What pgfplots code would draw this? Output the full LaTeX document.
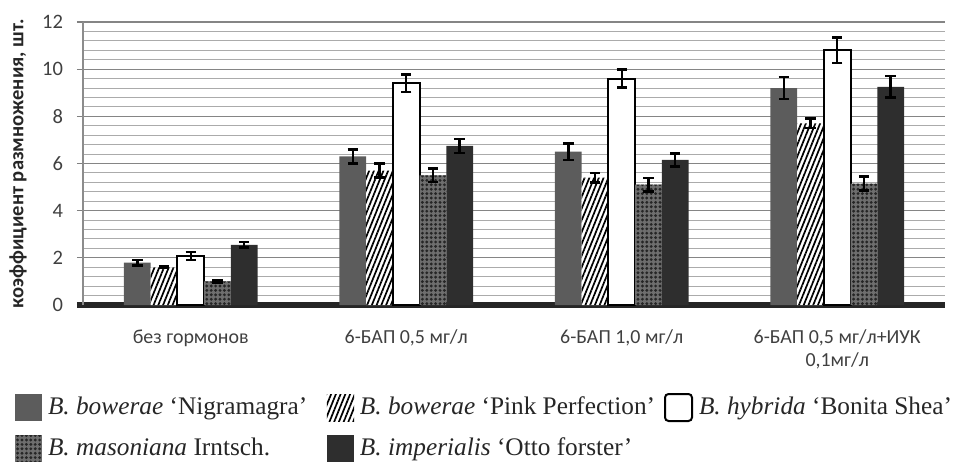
\documentclass[border=0pt]{standalone}
\usepackage{pgfplots}
\pgfplotsset{compat=1.18}
\usepackage{fontspec}
\setmainfont{Liberation Serif}
\newfontfamily\carlito{Carlito}
\usetikzlibrary{patterns,patterns.meta}

\definecolor{cNigra}{HTML}{5C5C5C}
\definecolor{cOtto}{HTML}{2E2E2E}
\definecolor{cMason}{HTML}{6E6E6E}
\definecolor{cText}{HTML}{404040}

\pgfplotsset{
  sqleg/.style={legend image code/.code={\path[##1] (0bp,-6.75bp) rectangle (13.5bp,6.75bp);}},
  sqlegr/.style={legend image code/.code={\path[##1, rounded corners=1.8bp] (0bp,-6.75bp) rectangle (13.5bp,6.75bp);}},
  eb/.style={error bars/.cd, y dir=both, y explicit,
    error bar style={line width=1.2bp, black},
    error mark options={rotate=90, mark size=2.6bp, line width=1.2bp, black}},
}

\begin{document}
\begin{tikzpicture}
\path[use as bounding box] (-41.5bp,-78.5bp) rectangle (439.5bp,152.5bp);
\begin{axis}[
  at={(0,0)}, anchor=south west,
  width=431bp, height=141.5bp, scale only axis,
  ybar=0pt, bar width=0.124,
  xmin=-0.5, xmax=3.5, ymin=0, ymax=12,
  xtick={0,1,2,3},
  xticklabels={{без гормонов},{6-БАП 0,5 мг/л},{6-БАП 1,0 мг/л},{6-БАП 0,5 мг/л+ИУК\\0,1мг/л}},
  xticklabel style={align=center, font=\carlito\fontsize{10}{11.5}\selectfont, text=cText, anchor=north, yshift=-6bp},
  ytick={0,2,...,12},
  yticklabel style={font=\carlito\fontsize{10.3}{12}\selectfont, text=cText, xshift=-3.5bp},
  /pgf/number format/assume math mode=true,
  minor y tick num=4,
  ymajorgrids, yminorgrids,
  major grid style={black!48, line width=0.6bp},
  minor grid style={black!33, line width=0.5bp},
  axis x line*=bottom, axis y line*=left,
  x axis line style={-, line width=2.6bp, black!85, shorten <=-3bp},
  y axis line style={-, black!45, line width=0.6bp},
  tick align=outside,
  xtick style={draw=none},
  ytick style={black!50, line width=0.6bp},
  major tick length=3bp, minor tick length=0pt,
  ylabel={коэффициент размножения, шт.},
  ylabel style={at={(axis description cs:-0.0754,0.5)}, anchor=center, font=\carlito\bfseries\fontsize{10.3}{12}\selectfont, text=black!85},
  legend columns=3,
  legend style={at={(0,0)}, anchor=north west, xshift=-34bp, yshift=-44bp,
    draw=none, fill=none, inner sep=0pt, outer sep=0pt,
    font=\fontsize{12.7}{14}\selectfont, text=black!85,
    /tikz/every odd column/.append style={column sep=3bp},
    /tikz/every even column/.append style={column sep=0bp},
    row sep=6.5bp, nodes={inner sep=0pt}},
  legend cell align=left,
]
\addplot[fill=cNigra, draw=none, sqleg, eb] coordinates {
  (0,1.8) +- (0,0.12) (1,6.3) +- (0,0.3) (2,6.5) +- (0,0.35) (3,9.2) +- (0,0.47)};
\addlegendentry{\makebox[139.5bp][l]{\textit{B. bowerae} ‘Nigramagra’}}
\addplot[fill=white, draw=none, postaction={pattern={Lines[angle=68,distance=2.2bp,line width=0.85bp]}, pattern color=black}, sqleg, eb] coordinates {
  (0,1.6) +- (0,0.03) (1,5.7) +- (0,0.3) (2,5.4) +- (0,0.2) (3,7.7) +- (0,0.2)};
\addlegendentry{\makebox[152bp][l]{\textit{B. bowerae} ‘Pink Perfection’}}
\addplot[fill=white, draw=black, line width=1bp, sqlegr, eb] coordinates {
  (0,2.07) +- (0,0.17) (1,9.4) +- (0,0.38) (2,9.6) +- (0,0.38) (3,10.8) +- (0,0.55)};
\addlegendentry{\textit{B. hybrida} ‘Bonita Shea’}
\addplot[fill=cMason, draw=none, postaction={pattern={Dots[distance=2.2bp,radius=0.8bp]}, pattern color=black!85}, sqleg, eb] coordinates {
  (0,1.0) +- (0,0.05) (1,5.5) +- (0,0.28) (2,5.1) +- (0,0.28) (3,5.15) +- (0,0.3)};
\addlegendentry{\textit{B. masoniana} Irntsch.}
\addplot[fill=cOtto, draw=none, sqleg, eb] coordinates {
  (0,2.55) +- (0,0.12) (1,6.75) +- (0,0.3) (2,6.15) +- (0,0.28) (3,9.25) +- (0,0.45)};
\addlegendentry{\textit{B. imperialis} ‘Otto forster’}
\end{axis}
\end{tikzpicture}
\end{document}
